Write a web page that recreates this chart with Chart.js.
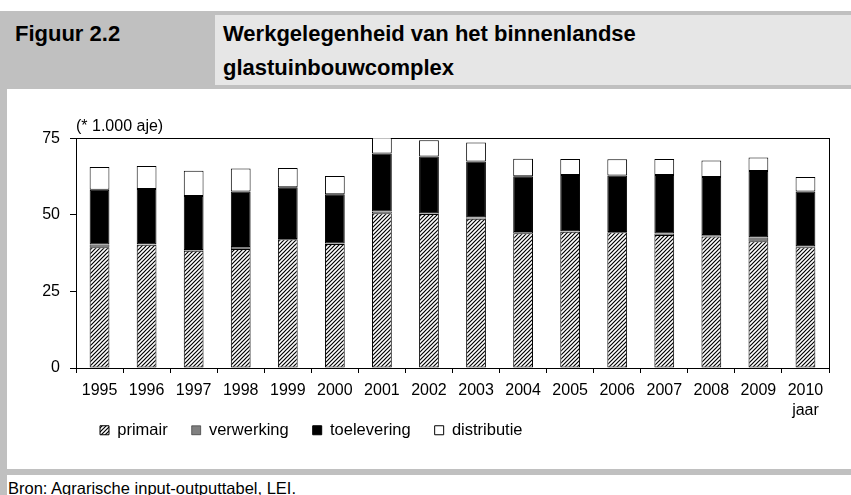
<!DOCTYPE html>
<html lang="nl">
<head>
    <meta charset="UTF-8">
    <title>Werkgelegenheid glastuinbouwcomplex</title>
    <script src="https://cdn.jsdelivr.net/npm/chart.js"></script>
    <style>
        body {
            margin: 0;
            width: 851px;
            height: 495px;
            position: relative;
            overflow: hidden;
            background: #fff;
            font-family: 'Liberation Sans', Arial, sans-serif;
        }
        .band { position: absolute; background: #c0c0c0; }
        .panel { position: absolute; left: 215px; top: 15px; width: 636px; height: 70px; background: #e6e6e6; }
        .head {
            position: absolute;
            top: 17px;
            font-weight: bold;
            font-size: 22px;
            line-height: 34px;
            color: #000;
        }
        .bron {
            position: absolute;
            left: 8px;
            top: 480px;
            font-size: 16.5px;
            line-height: 16.5px;
            color: #000;
            white-space: nowrap;
        }
        #chart { position: absolute; left: 7px; top: 89px; }
    </style>
</head>
<body>
    <div class="band" style="left:0;top:11px;width:851px;height:78px"></div>
    <div class="panel"></div>
    <div class="head" style="left:15px">Figuur 2.2</div>
    <div class="head" style="left:223px">Werkgelegenheid van het binnenlandse<br>glastuinbouwcomplex</div>
    <div class="band" style="left:0;top:89px;width:7px;height:406px"></div>
    <div class="band" style="left:0;top:469px;width:851px;height:6px"></div>
    <div class="bron">Bron: Agrarische input-outputtabel, LEI.</div>

    <canvas id="chart" width="844" height="394"></canvas>

    <script>
        const years = ['1995', '1996', '1997', '1998', '1999', '2000', '2001', '2002',
                       '2003', '2004', '2005', '2006', '2007', '2008', '2009', '2010'];
        const axisUnit = 'jaar';
        const unitLabel = '(* 1.000 aje)';

        // duizend arbeidsjaareenheden, per schakel
        const primair     = [39.4, 40.2, 38.3, 38.8, 42.0, 40.5, 50.5, 50.3, 48.7, 44.0, 44.5, 44.3, 43.4, 42.9, 41.4, 39.4];
        const verwerking  = [0.9, 0.2, 0.2, 0.7, 0.1, 0.1, 0.6, 0.2, 0.5, 0.4, 0.1, 0.1, 0.5, 0.5, 1.3, 0.3];
        const toelevering = [17.9, 18.0, 17.6, 18.1, 16.9, 16.1, 18.9, 18.5, 18.2, 18.2, 18.4, 18.4, 19.1, 18.9, 21.6, 17.9];
        const distributie = [7.4, 7.5, 8.3, 7.5, 6.3, 6.0, 6.5, 5.3, 6.2, 5.7, 5.2, 5.3, 5.2, 5.4, 4.4, 4.7];

        const yTicks = [0, 25, 50, 75];

        // diagonale arcering voor primair
        function hatch() {
            const c = document.createElement('canvas');
            c.width = 4;
            c.height = 4;
            const g = c.getContext('2d');
            g.fillStyle = '#fff';
            g.fillRect(0, 0, 4, 4);
            g.strokeStyle = '#000';
            g.lineWidth = 1.2;
            g.beginPath();
            g.moveTo(0, 4); g.lineTo(4, 0);
            g.moveTo(-1, 1); g.lineTo(1, -1);
            g.moveTo(3, 5); g.lineTo(5, 3);
            g.stroke();
            return g.createPattern(c, 'repeat');
        }

        // legenda iets hoger zetten, dichter onder de jaartallen
        const legendLift = {
            id: 'legendLift',
            afterLayout(chart) {
                chart.legend.top -= 31;
                chart.legend.bottom -= 31;
            }
        };

        Chart.defaults.font.family = "'Liberation Sans', Arial, sans-serif";
        Chart.defaults.color = '#000';

        const common = { barPercentage: 0.42, categoryPercentage: 1, borderColor: '#000', borderSkipped: false };

        new Chart(document.getElementById('chart'), {
            type: 'bar',
            data: {
                labels: years,
                datasets: [
                    { ...common, label: 'primair', data: primair, backgroundColor: hatch(), borderWidth: 1 },
                    { ...common, label: 'verwerking', data: verwerking, backgroundColor: '#808080',
                      borderWidth: { left: 1, right: 1, top: 0, bottom: 0 } },
                    { ...common, label: 'toelevering', data: toelevering, backgroundColor: '#000', borderWidth: 1 },
                    { ...common, label: 'distributie', data: distributie, backgroundColor: '#fff', borderWidth: 1, clip: 0 }
                ]
            },
            options: {
                responsive: false,
                animation: false,
                layout: { padding: { left: 0, right: 22, top: 0, bottom: 3.5 } },
                scales: {
                    x: {
                        stacked: true,
                        grid: { drawOnChartArea: false, color: '#000', tickLength: 5 },
                        border: { color: '#000', width: 1 },
                        ticks: {
                            font: { size: 16, lineHeight: 1.25 },
                            padding: 8,
                            maxRotation: 0,
                            autoSkip: false,
                            callback: (v, i) => i === years.length - 1 ? [years[i], axisUnit] : years[i]
                        }
                    },
                    y: {
                        stacked: true,
                        min: 0,
                        max: 75,
                        afterBuildTicks: s => { s.ticks = yTicks.map(v => ({ value: v })); },
                        grid: { drawOnChartArea: false, color: '#000', tickLength: 6 },
                        border: { color: '#000', width: 1 },
                        ticks: { font: { size: 16 }, padding: 10 },
                        afterFit: s => { s.width = 69; }
                    },
                    xTop: {
                        position: 'top',
                        grid: { display: false, drawTicks: false },
                        ticks: { display: false },
                        border: { color: '#000', width: 1 }
                    },
                    yRight: {
                        position: 'right',
                        grid: { display: false, drawTicks: false },
                        ticks: { display: false },
                        border: { color: '#000', width: 1 }
                    }
                },
                plugins: {
                    title: {
                        display: true,
                        text: unitLabel,
                        align: 'start',
                        fullSize: false,
                        font: { size: 16, weight: 'normal' },
                        padding: { top: 28, bottom: 2 }
                    },
                    legend: {
                        position: 'bottom',
                        align: 'start',
                        fullSize: false,
                        labels: {
                            boxWidth: 9,
                            boxHeight: 9,
                            padding: 24,
                            font: { size: 16.5 },
                            color: '#000'
                        }
                    },
                    tooltip: { enabled: false }
                }
            },
            plugins: [legendLift]
        });
    </script>
</body>
</html>
